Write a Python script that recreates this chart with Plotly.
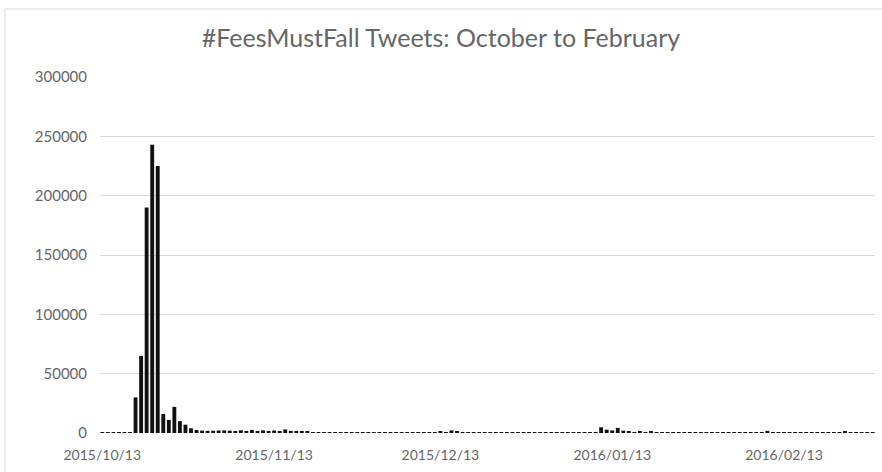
import pandas as pd
import plotly.graph_objects as go

title = "#FeesMustFall Tweets: October to February"
start_date = "2015-10-13"

tweets = (
    [700, 650, 700, 750, 700, 800]
    + [30000, 65000, 190000, 243000, 225000, 16000, 11000, 22000, 10000, 7000, 4000, 2500]
    + [2000, 1800, 1900, 2100, 2200, 2000, 1700, 2300, 1300, 2600, 1200, 2200, 1300, 2100, 1200, 3000, 1800, 1500, 1200, 1000]
    + [800, 700, 700, 750, 650, 700, 800, 700, 700, 650, 700, 750, 700, 650, 700, 700, 750, 700, 650, 700, 700, 800, 700, 900, 800]
    + [2200, 1100]
    + [700, 750, 700, 650, 700, 700, 750, 700, 650, 700, 750, 700, 700, 650, 700, 750, 700, 700, 650, 700, 750, 700, 700]
    + [700, 800, 4800, 2800, 2200, 4300, 2000, 900, 750, 1500, 800, 1600]
    + [700, 750, 700, 650, 700, 750, 700, 700, 650, 700, 750, 700, 650, 700, 700, 750, 700, 650, 700, 800]
    + [1800]
    + [700, 750, 700, 650, 700, 700, 750, 700, 650, 700, 750, 700, 700]
    + [1300]
    + [700, 750, 700, 700, 750]
)
dates = pd.date_range(start_date, periods=len(tweets), freq="D")

x_tick_dates = ["2015-10-13", "2015-11-13", "2015-12-13", "2016-01-13", "2016-02-13"]
x_tick_labels = ["2015/10/13", "2015/11/13", "2015/12/13", "2016/01/13", "2016/02/13"]
y_ticks = [0, 50000, 100000, 150000, 200000, 250000, 300000]

FONT = "Lato"
GREY = "#666666"

fig = go.Figure(
    go.Bar(x=dates, y=tweets, marker=dict(color="#111111", line=dict(width=0)))
)

W, H = 882, 472
L, R, T, B = 100, 7, 77, 39
pw, ph = W - L - R, H - T - B


def px2paper_x(px):
    return (px - L) / pw


def px2paper_y(py):
    return (H - B - py) / ph


fig.update_layout(
    width=W,
    height=H,
    margin=dict(l=L, r=R, t=T, b=B),
    paper_bgcolor="white",
    plot_bgcolor="white",
    bargap=0.3,
    showlegend=False,
    font=dict(family=FONT, size=15, color=GREY),
    title=dict(
        text=title,
        x=0.5,
        xanchor="center",
        y=1 - 38 / H,
        yanchor="middle",
        font=dict(family=FONT, size=25, color=GREY),
    ),
    xaxis=dict(
        type="date",
        range=["2015-10-12 14:00", "2016-02-29 10:00"],
        tickvals=x_tick_dates,
        ticktext=x_tick_labels,
        showgrid=False,
        showline=False,
        zeroline=False,
        ticks="",
        ticklabelstandoff=12,
        tickfont=dict(family=FONT, size=14, color=GREY),
    ),
    yaxis=dict(
        range=[0, 300000],
        tickvals=y_ticks,
        ticktext=[str(v) for v in y_ticks],
        showgrid=True,
        gridcolor="#d9d9d9",
        gridwidth=1,
        zeroline=True,
        zerolinecolor="white",
        zerolinewidth=1,
        showline=False,
        ticks="",
        ticklabelstandoff=12,
        tickfont=dict(family=FONT, size=15, color=GREY),
    ),
    shapes=[
        dict(type="line", xref="paper", yref="paper",
             x0=px2paper_x(5), x1=px2paper_x(882), y0=px2paper_y(9), y1=px2paper_y(9),
             line=dict(color="#d9d9d9", width=1)),
        dict(type="line", xref="paper", yref="paper",
             x0=px2paper_x(5), x1=px2paper_x(5), y0=px2paper_y(9), y1=px2paper_y(472),
             line=dict(color="#d9d9d9", width=1)),
    ],
)

fig.write_html("out.html", config={"displayModeBar": False})

# remove the default page margin so the figure sits at the window origin
with open("out.html", encoding="utf-8") as f:
    html = f.read()
html = html.replace("<head>", "<head><style>html,body{margin:0;padding:0;overflow:hidden;}</style>", 1)
with open("out.html", "w", encoding="utf-8") as f:
    f.write(html)
